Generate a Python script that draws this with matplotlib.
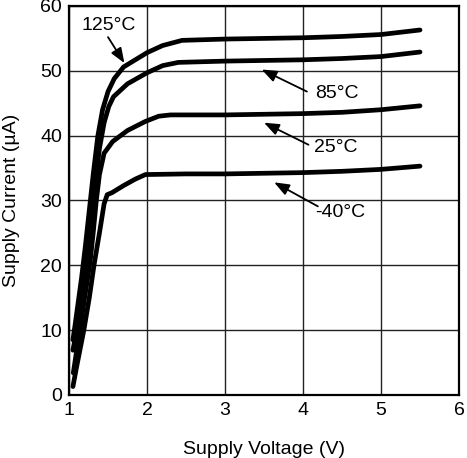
import matplotlib
matplotlib.use("Agg")
import matplotlib.pyplot as plt

plt.rcParams['font.family'] = ['Liberation Sans', 'DejaVu Sans']

# Supply voltage (V) / supply current (uA)
v_125 = [1.05, 1.08, 1.12, 1.16, 1.21, 1.26, 1.31, 1.37, 1.43, 1.50, 1.58, 1.70, 1.85, 2.00, 2.20, 2.45, 3.00, 3.50, 4.00, 4.50, 5.00, 5.50]
i_125 = [8.5, 11.0, 14.5, 18.0, 23.0, 28.5, 34.0, 40.0, 44.0, 46.8, 48.8, 50.6, 51.7, 52.8, 53.9, 54.7, 54.9, 55.0, 55.1, 55.3, 55.6, 56.3]

v_85 = [1.05, 1.09, 1.13, 1.18, 1.23, 1.28, 1.33, 1.39, 1.45, 1.51, 1.57, 1.75, 2.00, 2.20, 2.40, 3.00, 3.50, 4.00, 4.50, 5.00, 5.50]
i_85 = [6.9, 9.5, 13.0, 17.0, 21.0, 26.5, 32.0, 38.0, 42.0, 44.5, 46.0, 48.0, 49.7, 50.8, 51.3, 51.5, 51.6, 51.7, 51.9, 52.2, 52.9]

v_25 = [1.055, 1.10, 1.14, 1.20, 1.27, 1.31, 1.35, 1.39, 1.45, 1.56, 1.75, 1.98, 2.15, 2.30, 3.00, 3.50, 4.00, 4.50, 5.00, 5.50]
i_25 = [3.4, 7.0, 10.0, 15.0, 20.5, 25.0, 30.0, 34.0, 37.3, 39.1, 40.8, 42.2, 43.0, 43.2, 43.2, 43.3, 43.4, 43.6, 44.0, 44.6]

v_m40 = [1.05, 1.10, 1.19, 1.26, 1.32, 1.39, 1.45, 1.49, 1.55, 1.70, 1.85, 1.98, 2.50, 3.00, 3.50, 4.00, 4.50, 5.00, 5.50]
i_m40 = [1.3, 4.5, 10.0, 15.0, 20.0, 25.0, 29.5, 30.9, 31.2, 32.3, 33.3, 34.0, 34.1, 34.1, 34.2, 34.3, 34.5, 34.8, 35.3]

labels = ["125°C", "85°C", "25°C", "-40°C"]
label_xy = [(1.51, 57.0), (4.43, 46.5), (4.42, 38.2), (4.48, 28.2)]
arrow_tip = [(1.71, 51.2), (3.47, 50.2), (3.50, 42.0), (3.63, 32.8)]
arrow_tail = [(1.50, 55.2), (4.05, 46.8), (4.07, 38.6), (4.19, 29.1)]

x_ticks = [1, 2, 3, 4, 5, 6]
y_ticks = [0, 10, 20, 30, 40, 50, 60]

fig = plt.figure(figsize=(4.67, 4.58), dpi=100)
ax = fig.add_axes([0.1478, 0.1376, 0.8351, 0.8493])

for v, i in [(v_125, i_125), (v_85, i_85), (v_25, i_25), (v_m40, i_m40)]:
    ax.plot(v, i, color='black', linewidth=3.4, solid_joinstyle='round', solid_capstyle='round', zorder=3)

for lab, xy, tip, tail in zip(labels, label_xy, arrow_tip, arrow_tail):
    ax.text(xy[0], xy[1], lab, fontsize=14, ha='center', va='center', zorder=4)
    ax.annotate('', xy=tip, xytext=tail,
                arrowprops=dict(arrowstyle='-|>,head_length=0.9,head_width=0.35', color='black', lw=1.3,
                                shrinkA=0, shrinkB=0), zorder=4)

ax.set_xlim(1, 6)
ax.set_ylim(0, 60)
ax.set_xticks(x_ticks)
ax.set_yticks(y_ticks)
ax.tick_params(length=0, labelsize=14, pad=5)
ax.grid(True, color='#222222', linewidth=1.0)
ax.set_axisbelow(True)
for s in ax.spines.values():
    s.set_linewidth(1.6)
    s.set_color('black')

ax.set_xlabel('Supply Voltage (V)', fontsize=14)
ax.set_ylabel('Supply Current (µA)', fontsize=14)
ax.xaxis.set_label_coords(0.5, -0.118)
ax.yaxis.set_label_coords(-0.125, 0.5)

fig.savefig('out.png', dpi=100)
